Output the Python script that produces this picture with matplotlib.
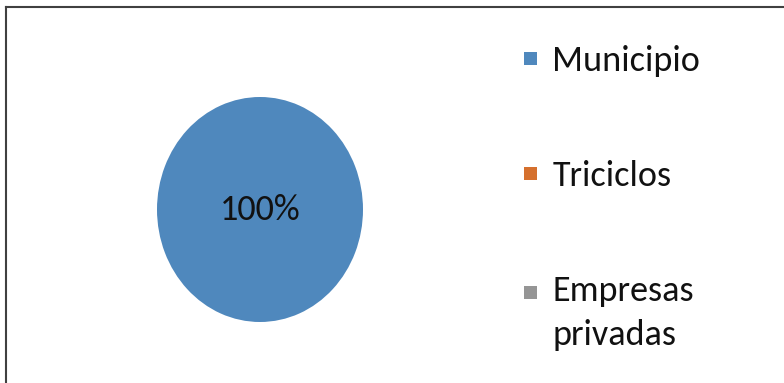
import matplotlib.pyplot as plt
from matplotlib.lines import Line2D
from matplotlib.patches import Rectangle
from matplotlib.legend_handler import HandlerPatch

# data
labels = ['Municipio', 'Triciclos', 'Empresas\nprivadas']
values = [100, 0, 0]
colors = ['#4F88BD', '#D5702E', '#959595']

plt.rcParams['font.family'] = ['Carlito', 'PT Sans Narrow', 'DejaVu Sans']

W, H = 784, 383
FS = 26
LINESP = 1.45
fig = plt.figure(figsize=(W / 100, H / 100), dpi=100)

# pie axes, stretched into an ellipse like the original
ax = fig.add_axes([157 / W, (H - 322) / H, 206 / W, 225 / H])


def pct(p):
    return f'{p:.0f}%' if p > 0 else ''


wedges, texts, autotexts = ax.pie(values, colors=colors, startangle=90, counterclock=False,
                                  autopct=pct, pctdistance=0.0,
                                  wedgeprops=dict(linewidth=0))
for t in autotexts:
    t.set_fontsize(FS)
    t.set_color('#111111')
ax.set_aspect('auto')
ax.set_xlim(-1, 1)
ax.set_ylim(-1, 1)


# square legend keys; for the two-line label it sits on the first line
def square(shift_lines):
    def make(legend, orig_handle, xdescent, ydescent, width, height, fontsize):
        shift = shift_lines * 0.5 * LINESP * fontsize * 0.8
        cy = -ydescent + height / 2 + shift
        return Rectangle((-xdescent, cy - width / 2), width, width)
    return HandlerPatch(patch_func=make)


leg = fig.legend(wedges, labels, loc='upper left', bbox_to_anchor=(524 / W, 1 - 45 / H),
                 frameon=False, fontsize=FS, handlelength=0.36,
                 handletextpad=0.42, labelspacing=2.3, borderpad=0, borderaxespad=0,
                 labelcolor='#111111',
                 handler_map={wedges[0]: square(0), wedges[1]: square(0), wedges[2]: square(1)})
for t in leg.get_texts():
    t.set_linespacing(LINESP)

# chart border (top and left visible)
fig.add_artist(Line2D([6 / W, 1], [1 - 7 / H, 1 - 7 / H], color='#404040', lw=1.5))
fig.add_artist(Line2D([6 / W, 6 / W], [0, 1 - 7 / H], color='#404040', lw=1.5))

fig.savefig('out.png', dpi=100)
